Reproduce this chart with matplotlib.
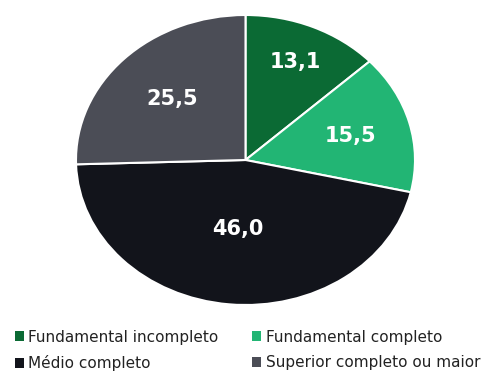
import numpy as np
import matplotlib
matplotlib.use("Agg")
import matplotlib.pyplot as plt
from matplotlib.patches import Patch

categories = ["Fundamental incompleto", "Fundamental completo", "Médio completo", "Superior completo ou maior"]
values = [13.1, 15.5, 46.0, 25.5]
value_labels = ["13,1", "15,5", "46,0", "25,5"]
colors = ["#0b6a34", "#22b574", "#12141b", "#4b4d56"]
label_radius = [0.74, 0.64, 0.48, 0.60]

plt.rcParams['font.family'] = ['DejaVu Sans']

fig = plt.figure(figsize=(4.82, 3.72), dpi=100)
ax = fig.add_axes([76/482, (372-305)/372, 339/482, 290/372])

wedges, _ = ax.pie(values, colors=colors, startangle=90, counterclock=False,
                   wedgeprops=dict(edgecolor="white", linewidth=1.5))
ax.set_aspect('auto')
ax.set_xlim(-1, 1)
ax.set_ylim(-1, 1)
ax.axis('off')

for w, lab, r in zip(wedges, value_labels, label_radius):
    mid = np.deg2rad((w.theta1 + w.theta2) / 2)
    ax.text(r*np.cos(mid), r*np.sin(mid), lab, ha='center', va='center',
            color='white', fontsize=15, fontweight='bold')

handles = [Patch(facecolor=c, edgecolor='none') for c in colors]
order = [0, 2, 1, 3]
fig.legend([handles[i] for i in order], [categories[i] for i in order],
           loc='lower left', bbox_to_anchor=(10/482, -4/372),
           ncol=2, frameon=False, fontsize=11, handlelength=0.6, handleheight=0.6,
           handletextpad=0.3, columnspacing=2.2, labelspacing=0.7,
           borderaxespad=0.0, borderpad=0.3, labelcolor='#222222')

fig.savefig("out.png", dpi=100, facecolor='white')
